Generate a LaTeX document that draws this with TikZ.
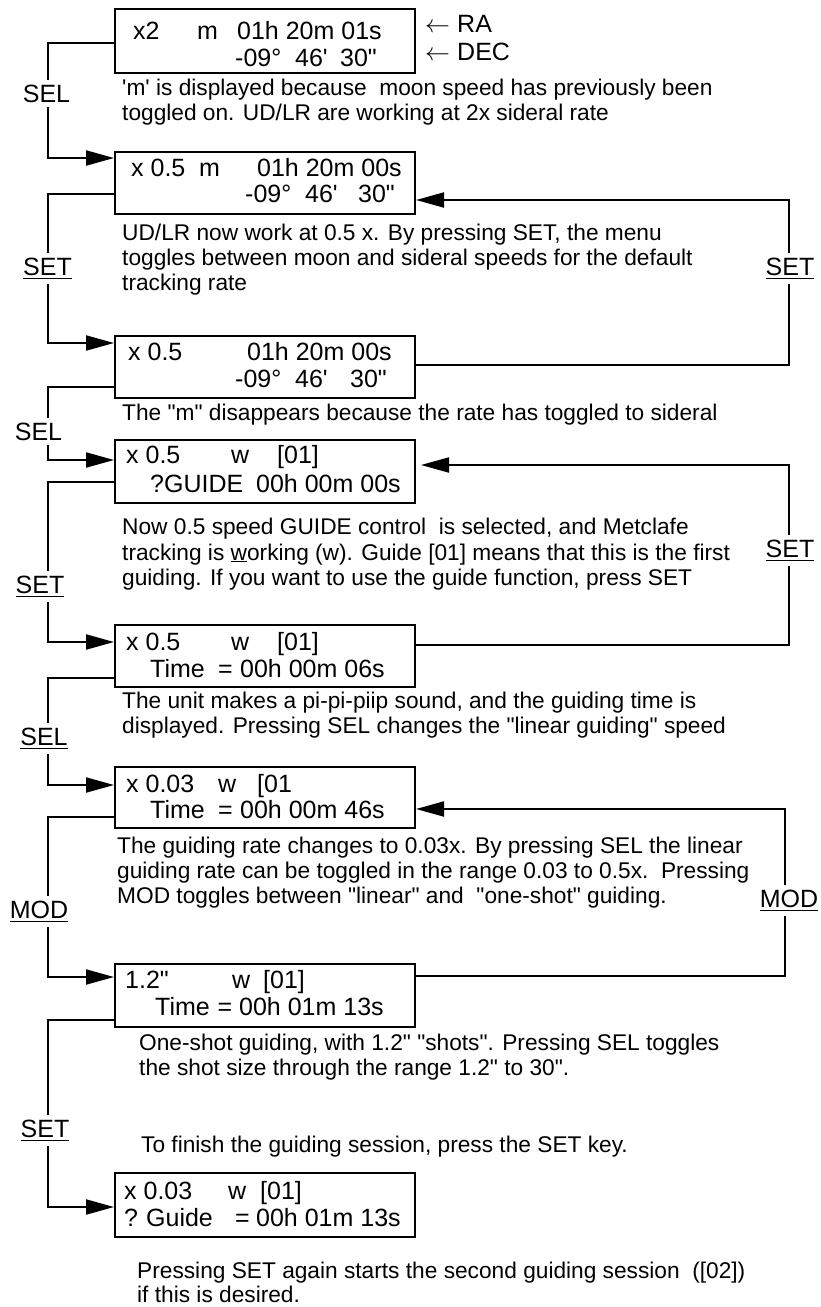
\documentclass[tikz,border=0pt]{standalone}
\usepackage{fontspec}
\setmainfont{Liberation Sans}[Ligatures=TeXOff]
\usetikzlibrary{arrows.meta}
% fixed-width column inside a display row
\newcommand{\lcdcol}[2]{\makebox[#1][l]{#2}}
% underlined key name
\newcommand{\keyu}[1]{\vtop{\hbox{#1}\kern2.6pt\hrule height 1.3pt}}
% underlined letter in running text
\newcommand{\wul}[1]{\vtop{\hbox{#1}\kern1.2pt\hrule height 1.1pt}}

\begin{document}
\begin{tikzpicture}[x=1pt,y=-1pt,
  lcd/.style={draw, line width=2pt, minimum width=300pt, inner sep=0pt},
  row/.style={anchor=base west, inner sep=0pt, font=\fontsize{25}{27}\selectfont},
  note/.style={anchor=base west, inner sep=0pt, font=\fontsize{22.7}{25}\selectfont},
  key/.style={anchor=base, fill=white, inner xsep=2pt, inner ysep=5pt, font=\fontsize{25}{27}\selectfont},
  conn/.style={line width=2pt, -{Triangle[length=28pt,width=15pt]}}]

\useasboundingbox (0,0) rectangle (820,1307);

% ---- display boxes
\node[lcd, minimum height=64pt] (b1) at (265,41)    {};
\node[lcd, minimum height=62pt] (b2) at (265,183)   {};
\node[lcd, minimum height=62pt] (b3) at (265,367)   {};
\node[lcd, minimum height=63pt] (b4) at (265,471.5) {};
\node[lcd, minimum height=62pt] (b5) at (265,656)   {};
\node[lcd, minimum height=61pt] (b6) at (265,797.5) {};
\node[lcd, minimum height=63pt] (b7) at (265,995.5) {};
\node[lcd, minimum height=64pt] (b8) at (265,1205)  {};

% ---- display contents
\node[row] (b1r1) at (133,39)  {\lcdcol{64pt}{x2}\lcdcol{40pt}{m}01h 20m 01s};
\node[row] (b1r2) at (235,66)  {\lcdcol{60pt}{-09°}\lcdcol{45pt}{46'}30"};
\node[row] (ra)   at (425,32)  {\lcdcol{32pt}{$\leftarrow$}RA};
\node[row] (dec)  at (425,60)  {\lcdcol{32pt}{$\leftarrow$}DEC};

\node[row] (b2r1) at (131,176) {\lcdcol{68pt}{x 0.5}\lcdcol{58pt}{m}01h 20m 00s};
\node[row] (b2r2) at (245,202) {\lcdcol{60pt}{-09°}\lcdcol{53pt}{46'}30"};

\node[row] (b3r1) at (128,360) {\lcdcol{119pt}{x 0.5}01h 20m 00s};
\node[row] (b3r2) at (235,387) {\lcdcol{60pt}{-09°}\lcdcol{55pt}{46'}30"};

\node[row] (b4r1) at (126,463) {\lcdcol{105pt}{x 0.5}\lcdcol{46pt}{w}[01]};
\node[row] (b4r2) at (150,492) {\lcdcol{106pt}{?GUIDE}00h 00m 00s};

\node[row] (b5r1) at (126,650) {\lcdcol{105pt}{x 0.5}\lcdcol{46pt}{w}[01]};
\node[row] (b5r2) at (150,677) {\lcdcol{68pt}{Time}\lcdcol{22pt}{=}00h 00m 06s};

\node[row] (b6r1) at (126,792) {\lcdcol{92pt}{x 0.03}\lcdcol{39pt}{w}[01};
\node[row] (b6r2) at (150,818) {\lcdcol{68pt}{Time}\lcdcol{22pt}{=}00h 00m 46s};

\node[row] (b7r1) at (125,988)  {\lcdcol{107pt}{1.2"}\lcdcol{31pt}{w}[01]};
\node[row] (b7r2) at (155,1015) {\lcdcol{62.5pt}{Time}\lcdcol{21.5pt}{=}00h 01m 13s};

\node[row] (b8r1) at (124,1199) {\lcdcol{104pt}{x 0.03}\lcdcol{32pt}{w}[01]};
\node[row] (b8r2) at (124,1226) {\lcdcol{22pt}{?}\lcdcol{89pt}{Guide}\lcdcol{21pt}{=}00h 01m 13s};

% ---- explanations
\node[note] (n1a) at (122,95)  {'m' is displayed because\ \ moon speed has previously been};
\node[note] (n1b) at (122,120) {toggled on. UD/LR are working at 2x sideral rate};

\node[note] (n2a) at (122,240) {UD/LR now work at 0.5 x. By pressing SET, the menu};
\node[note] (n2b) at (122,265) {toggles between moon and sideral speeds for the default};
\node[note] (n2c) at (122,290) {tracking rate};

\node[note] (n3a) at (122,420) {The "m" disappears because the rate has toggled to sideral};

\node[note] (n4a) at (122,534) {Now 0.5 speed GUIDE control\ \ is selected, and Metclafe};
\node[note] (n4b) at (122,560) {tracking is \wul{w}orking (w). Guide [01] means that this is the first};
\node[note] (n4c) at (122,585) {guiding. If you want to use the guide function, press SET};

\node[note] (n5a) at (122,708) {The unit makes a pi-pi-piip sound, and the guiding time is};
\node[note] (n5b) at (122,733) {displayed. Pressing SEL changes the "linear guiding" speed};

\node[note] (n6a) at (117,853) {The guiding rate changes to 0.03x. By pressing SEL the linear};
\node[note] (n6b) at (117,878) {guiding rate can be toggled in the range 0.03 to 0.5x.\ \ Pressing};
\node[note] (n6c) at (117,903) {MOD toggles between "linear" and\ \ "one-shot" guiding.};

\node[note] (n7a) at (139,1050) {One-shot guiding, with 1.2" "shots". Pressing SEL toggles};
\node[note] (n7b) at (139,1075) {the shot size through the range 1.2" to 30".};

\node[note] (n8a) at (141,1152) {To finish the guiding session, press the SET key.};

\node[note] (n9a) at (137,1278) {Pressing SET again starts the second guiding session\ \ ([02])};
\node[note] (n9b) at (137,1302) {if this is desired.};

% ---- key transitions on the left
\draw[conn] (b1.west |- 0,43)   -- (48,43)   |- (b2.west |- 0,158);
\draw[conn] (b2.west |- 0,194)  -- (48,194)  |- (b3.west |- 0,343);
\draw[conn] (b3.west |- 0,387)  -- (48,387)  |- (b4.west |- 0,460);
\draw[conn] (b4.west |- 0,482)  -- (48,482)  |- (b5.west |- 0,642);
\draw[conn] (b5.west |- 0,678)  -- (48,678)  |- (b6.west |- 0,785);
\draw[conn] (b6.west |- 0,817)  -- (48,817)  |- (b7.west |- 0,977);
\draw[conn] (b7.west |- 0,1020) -- (48,1020) |- (b8.west |- 0,1207);

% ---- key transitions back on the right
\draw[conn] (b3.east |- 0,365) -- (789,365) |- (b2.east |- 0,200);
\draw[conn, shorten >=5pt] (b5.east |- 0,645) -- (789,645) |- (b4.east |- 0,465);
\draw[conn] (b7.east |- 0,976) -- (785,976) |- (b6.east |- 0,809);

% ---- key labels
\node[key] (k1) at (46.5,102) {SEL};
\node[key] (k2) at (47.5,275) {\keyu{SET}};
\node[key] (k3) at (38.5,440) {SEL};
\node[key] (k4) at (40,593)   {\keyu{SET}};
\node[key] (k5) at (44,745)   {\keyu{SEL}};
\node[key] (k6) at (39,918)   {\keyu{MOD}};
\node[key] (k7) at (45,1137)  {\keyu{SET}};
\node[key] (k8) at (790,275)  {\keyu{SET}};
\node[key] (k9) at (790,557)  {\keyu{SET}};
\node[key] (k10) at (789,907) {\keyu{MOD}};
\end{tikzpicture}
\end{document}
